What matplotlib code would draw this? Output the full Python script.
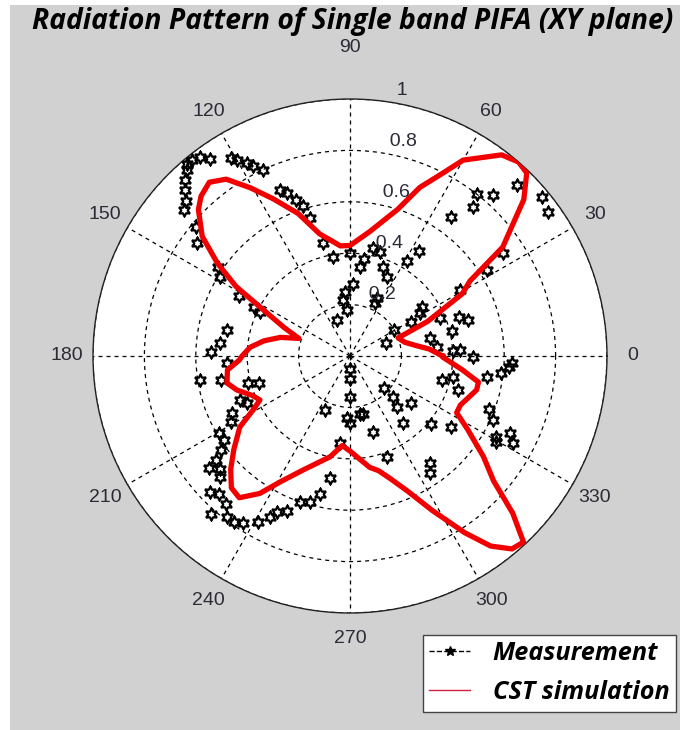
import numpy as np
import matplotlib.pyplot as plt
from matplotlib.lines import Line2D
from matplotlib.patches import Rectangle

# CST simulated pattern, normalised gain vs azimuth (deg)
cst_angle = [0, 5, 9, 14, 20.6, 24, 29, 32, 35.5, 42, 46, 49, 53, 60, 63, 67.5,
             72, 81, 90, 95, 100, 104, 110, 116, 120.6, 125, 129, 133, 136, 141,
             145, 148.6, 151.4, 156.6, 161, 165, 170, 175, 180, 182, 186.5, 192.4,
             196.7, 202, 206, 209, 212.8, 218.8, 223.5, 228, 232, 236.7, 241,
             247.6, 258.8, 265, 270, 280, 284, 288, 293, 298, 303, 306.5, 310,
             313, 316, 319, 323, 328, 332, 336, 345, 348.5, 353, 359.4, 360]
cst_gain = [0.36, 0.31, 0.26, 0.22, 0.20, 0.33, 0.50, 0.55, 0.73, 0.91, 0.99, 1.00,
            0.98, 0.88, 0.80, 0.71, 0.60, 0.49, 0.43, 0.43, 0.46, 0.49, 0.59, 0.68,
            0.76, 0.84, 0.87, 0.85, 0.82, 0.74, 0.63, 0.52, 0.40, 0.28, 0.21, 0.28,
            0.34, 0.39, 0.42, 0.43, 0.48, 0.49, 0.46, 0.41, 0.39, 0.43, 0.51, 0.58,
            0.64, 0.69, 0.70, 0.64, 0.56, 0.48, 0.40, 0.35, 0.37, 0.44, 0.46, 0.50,
            0.57, 0.68, 0.82, 0.92, 0.98, 0.99, 0.88, 0.74, 0.65, 0.54, 0.47, 0.47,
            0.51, 0.51, 0.44, 0.36, 0.36]

# Measured pattern, normalised gain vs azimuth (deg)
meas_angle = [3, 3, 6, 13, 14, 17, 19.5, 20, 23, 29, 31, 31, 31.5, 32, 34, 34, 36,
              39.5, 45.7, 48.4, 50.5, 52, 54, 56.6, 59, 64.7, 65, 65.4, 69.7, 74,
              78, 82, 83.6, 87.6, 90, 93.7, 94.5, 97, 99.7, 103.4, 106, 107.5, 109,
              110, 111, 113, 115, 117, 118, 120, 121, 125.5, 127, 128.8, 130.4, 131.2,
              133.2, 134.8, 136.6, 138.8, 140, 143.6, 146.2, 148.7, 151.8, 153.2,
              154, 168, 174.3, 178.3, 183.3, 189, 190.5, 194.7, 196.7, 201.8, 204.5,
              206, 209.2, 210.6, 213.5, 216, 218, 218.4, 221.2, 223, 224.2, 226.5,
              228.6, 230, 232.6, 235, 237.4, 241, 243.6, 245, 245, 247.7, 251, 254.7,
              257.6, 260.7, 263.4, 267, 270, 270, 270, 270, 280, 283, 286.6, 290,
              304.4, 306.8, 308.3, 312.7, 316.4, 316.8, 320, 322, 324.6, 329.4, 331,
              332, 334.3, 336, 339, 342.4, 345.5, 348.5, 351.3, 353.5, 356, 357.5,
              359.5]
meas_gain = [0.43, 0.40, 0.34, 0.32, 0.41, 0.48, 0.45, 0.15, 0.38, 0.27, 0.50, 0.20,
             0.32, 0.63, 0.72, 0.34, 0.95, 0.97, 0.93, 0.84, 0.75, 0.80, 0.67, 0.49,
             0.43, 0.23, 0.34, 0.25, 0.37, 0.42, 0.43, 0.38, 0.35, 0.28, 0.40, 0.18,
             0.25, 0.22, 0.39, 0.45, 0.56, 0.61, 0.64, 0.15, 0.68, 0.70, 0.80, 0.83,
             0.85, 0.88, 0.90, 0.94, 0.97, 0.98, 0.98, 0.96, 0.94, 0.91, 0.88, 0.86,
             0.78, 0.74, 0.62, 0.59, 0.49, 0.42, 0.39, 0.49, 0.51, 0.54, 0.48, 0.59,
             0.51, 0.41, 0.37, 0.46, 0.44, 0.51, 0.53, 0.59, 0.59, 0.62, 0.66, 0.70,
             0.67, 0.69, 0.76, 0.74, 0.82, 0.75, 0.79, 0.79, 0.77, 0.74, 0.70, 0.67,
             0.23, 0.65, 0.60, 0.59, 0.55, 0.48, 0.34, 0.24, 0.05, 0.09, 0.16, 0.26,
             0.23, 0.23, 0.31, 0.42, 0.55, 0.52, 0.33, 0.27, 0.23, 0.18, 0.41, 0.30,
             0.48, 0.66, 0.65, 0.72, 0.69, 0.61, 0.58, 0.44, 0.37, 0.41, 0.54, 0.59,
             0.62, 0.63, 0.48]

angle_ticks = list(range(0, 360, 30))
radial_ticks = [0.2, 0.4, 0.6, 0.8, 1.0]
radial_labels = ["0.2", "0.4", "0.6", "0.8", "1"]

label_font = ["Liberation Sans", "DejaVu Sans"]
title_font = ["Open Sans", "DejaVu Sans"]
label_color = "#2b2b36"

W, H = 680, 730
fig = plt.figure(figsize=(W / 100, H / 100), dpi=100, facecolor="white")
fig.patches.append(Rectangle((10 / W, 0), 1 - 10 / W, 1 - 5 / H,
                             transform=fig.transFigure, facecolor="#d1d1d1",
                             edgecolor="none", zorder=-1))

# polar axes: centre at (350, 356) px, radius 257 px
cx, cy, rad = 350, 356, 257
ax = fig.add_axes([(cx - rad) / W, (H - cy - rad) / H, 2 * rad / W, 2 * rad / H],
                  projection="polar")
ax.set_facecolor("white")
ax.set_ylim(0, 1)
ax.set_xticks(np.deg2rad(angle_ticks))
ax.set_yticks(radial_ticks)
ax.set_xticklabels([])
ax.set_yticklabels([])
ax.grid(True, color="black", linestyle=(0, (3.2, 3.2)), linewidth=0.9)
ax.spines["polar"].set_color("#222222")
ax.spines["polar"].set_linewidth(1.0)

ax.plot(np.deg2rad(meas_angle), meas_gain, linestyle="none", marker=(6, 1, 0),
        markersize=9, markerfacecolor="none", markeredgecolor="black",
        markeredgewidth=1.6, zorder=3)
ax.plot(np.deg2rad(cst_angle), cst_gain, color="#f20000", linewidth=3.8,
        solid_joinstyle="round", zorder=4)

for a in angle_ticks:
    r_lab = 1.2 if a == 90 else 1.1
    ax.text(np.deg2rad(a), r_lab, str(a), ha="center", va="center",
            fontsize=14, family=label_font, color=label_color, clip_on=False)

for r, lab in zip(radial_ticks, radial_labels):
    ax.text(np.deg2rad(82), r + 0.01, "  " + lab, ha="left", va="bottom",
            fontsize=14, family=label_font, color=label_color, clip_on=False,
            zorder=5)

fig.text(353 / W, 1 - 22 / H, "Radiation Pattern of Single band PIFA (XY plane)",
         ha="center", va="center", fontsize=20.3, fontweight="bold",
         style="italic", family=title_font)

handles = [
    Line2D([], [], color="black", linestyle="--", marker="*", markersize=7,
           linewidth=1.0),
    Line2D([], [], color="#d0203a", linewidth=1.0),
]
leg = fig.legend(handles, ["Measurement", "CST simulation"],
                 loc="upper left", bbox_to_anchor=(423 / W, 1 - 635 / H),
                 prop={"family": title_font, "weight": "bold", "style": "italic",
                       "size": 18.2},
                 frameon=True, fancybox=False, framealpha=1, edgecolor="#444444",
                 handlelength=1.6, handletextpad=0.9, borderpad=0.25,
                 labelspacing=0.55, borderaxespad=0)
leg.get_frame().set_linewidth(1.0)

fig.savefig("out.png", dpi=100, facecolor=fig.get_facecolor())
